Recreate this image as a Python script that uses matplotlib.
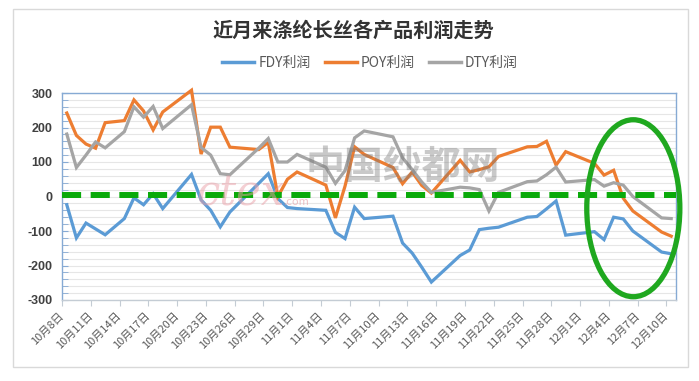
import matplotlib
matplotlib.use('Agg')
import matplotlib.pyplot as plt
from matplotlib.patches import Ellipse, Rectangle
from matplotlib.lines import Line2D
import numpy as np
import pandas as pd

plt.rcParams['font.family'] = ['Noto Sans CJK SC', 'DejaVu Sans']
plt.rcParams['axes.unicode_minus'] = False

# ---------------- data ----------------
dates = ["2019-10-08", "2019-10-09", "2019-10-10", "2019-10-11", "2019-10-12",
         "2019-10-14", "2019-10-15", "2019-10-16", "2019-10-17", "2019-10-18",
         "2019-10-21", "2019-10-22", "2019-10-23", "2019-10-24", "2019-10-25",
         "2019-10-28", "2019-10-29", "2019-10-30", "2019-10-31", "2019-11-01",
         "2019-11-04", "2019-11-05", "2019-11-06", "2019-11-07", "2019-11-08",
         "2019-11-11", "2019-11-12", "2019-11-13", "2019-11-14", "2019-11-15",
         "2019-11-18", "2019-11-19", "2019-11-20", "2019-11-21", "2019-11-22",
         "2019-11-25", "2019-11-26", "2019-11-27", "2019-11-28", "2019-11-29",
         "2019-12-02", "2019-12-03", "2019-12-04", "2019-12-05", "2019-12-06",
         "2019-12-09", "2019-12-10"]

fdy = [-24, -120, -77, -94, -111, -64, -4, -24, 8, -35,
       64, -10, -40, -88, -45, 38, 66, -6, -32, -35,
       -40, -104, -122, -31, -64, -57, -135, -164, -205, -248,
       -171, -155, -96, -92, -89, -60, -58, -36, -13, -112,
       -102, -125, -60, -65, -100, -161, -166]

poy = [242, 177, 152, 140, 214, 220, 280, 248, 193, 245,
       308, 123, 201, 201, 143, 136, 157, 0, 50, 71,
       33, -62, 30, 144, 122, 84, 37, 71, 32, 10,
       105, 71, 78, 86, 116, 144, 145, 160, 91, 130,
       96, 62, 76, -5, -42, -103, -115]

dty = [181, 84, 120, 158, 141, 188, 260, 230, 261, 197,
       266, 142, 120, 66, 63, 140, 168, 100, 100, 122,
       85, 38, 75, 170, 190, 173, 112, 78, 42, 12,
       27, 25, 20, -42, 12, 43, 45, 63, 85, 42,
       49, 30, 40, 33, 0, -62, -64]

series_names = ["FDY利润", "POY利润", "DTY利润"]
series_colors = ["#5b9bd5", "#ed7d31", "#a5a5a5"]

x_tick_labels = ["10月8日", "10月11日", "10月14日", "10月17日", "10月20日",
                 "10月23日", "10月26日", "10月29日", "11月1日", "11月4日",
                 "11月7日", "11月10日", "11月13日", "11月16日", "11月19日",
                 "11月22日", "11月25日", "11月28日", "12月1日", "12月4日",
                 "12月7日", "12月10日"]
y_ticks = [-300, -200, -100, 0, 100, 200, 300]
y_tick_labels = ["-300", "-200", "-100", "0", "100", "200", "300"]

ref_level = 5  # hand-drawn green dashed reference line
title = "近月来涤纶长丝各产品利润走势"

# ---------------- figure ----------------
W, H = 699, 381
fig = plt.figure(figsize=(W / 100, H / 100), dpi=100)

# outer chart frame
fig.patches.append(Rectangle((13 / W, 1 - 367 / H), (688 - 13) / W, (367 - 9) / H,
                             transform=fig.transFigure, fill=False,
                             edgecolor="#d9d9d9", linewidth=1.0))

ax = fig.add_axes([62 / W, 1 - 300 / H, (676 - 62) / W, (300 - 93) / H])

start = pd.Timestamp(dates[0])
x = (pd.to_datetime(dates) - start).days.values

ax.set_xlim(-0.5, 63.5)
ax.set_ylim(-300, 300)

# grid
ax.set_yticks(y_ticks)
ax.set_yticks(np.arange(-300, 301, 20), minor=True)
ax.grid(axis='y', which='both', color="#e6e6e6", linewidth=0.8, zorder=0)
ax.set_axisbelow(True)

for vals, name, col in zip([fdy, poy, dty], series_names, series_colors):
    ax.plot(x, vals, color=col, linewidth=2.3, label=name, zorder=3,
            clip_on=False, solid_joinstyle='miter')

# green dashed line
ax.axhline(ref_level, color="#0aaa0a", linewidth=4.3, dashes=(3.2, 1.6), zorder=4)

# green ellipse
ell = Ellipse((59.05, -34), width=9.7, height=513, fill=False,
              edgecolor="#1fa81f", linewidth=3.8, zorder=5, clip_on=False)
ax.add_patch(ell)

# watermark
fig.text(403 / W, 1 - 168 / H, "中国纱都网", fontsize=28, color="#7a7a7a",
         alpha=0.4, ha='center', va='center', fontweight='bold', zorder=6)
fig.text(240 / W, 1 - 194 / H, "ctex", fontsize=30, color="#eaa0a8",
         alpha=0.5, ha='center', va='center', style='italic',
         family=['DejaVu Serif'], zorder=6)
fig.text(283 / W, 1 - 202 / H, ".com", fontsize=8, color="#e69aa2",
         alpha=0.6, ha='left', va='center', style='italic', zorder=6)

# spines
for s in ['left', 'top', 'right']:
    ax.spines[s].set_color("#86aad4")
    ax.spines[s].set_linewidth(1.0)
ax.spines['bottom'].set_color("#c4ccd4")
ax.spines['bottom'].set_linewidth(1.0)

# y ticks
ax.set_yticklabels(y_tick_labels, fontsize=9, fontweight='bold',
                   color="#404040", family=['Liberation Sans'])
ax.tick_params(axis='y', which='major', direction='in', length=4, color="#86aad4",
               pad=7)
ax.tick_params(axis='y', which='minor', direction='in', length=4, color="#86aad4")

# x ticks
tick_pos = np.arange(len(x_tick_labels)) * 3 - 0.5
ax.set_xticks(tick_pos)
ax.set_xticklabels(x_tick_labels, rotation=45, ha='right', va='center',
                   rotation_mode='anchor', fontsize=8, color="#595959")
ax.tick_params(axis='x', which='major', direction='out', length=4,
               color="#c4ccd4", pad=6)

# title
fig.text(353 / W, 1 - 30 / H, title, fontsize=14.5, fontweight='bold',
         color="#333333", ha='center', va='center')

# legend
handles = [Line2D([0], [0], color=c, linewidth=2.5) for c in series_colors]
fig.legend(handles, series_names, loc='center',
           bbox_to_anchor=(370 / W, 1 - 63 / H), ncol=3, frameon=False,
           handlelength=2.3, handletextpad=0.3, columnspacing=1.0,
           fontsize=10, labelcolor="#595959")

fig.savefig("out.png", dpi=100)
